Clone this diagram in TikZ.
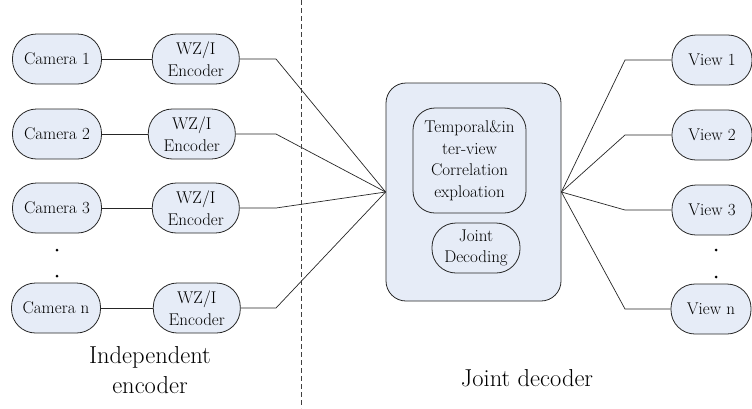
\documentclass[tikz,border=0pt]{standalone}
\usepackage{tikz}
\usetikzlibrary{positioning}
\definecolor{boxfill}{RGB}{230,236,247}

\begin{document}
\begin{tikzpicture}[
    x=1pt, y=-1pt,
    every node/.style={font=\rmfamily\fontsize{17}{21.5}\selectfont},
    pill/.style={rectangle, draw=black!85, line width=0.8pt, fill=boxfill, rounded corners=24pt, minimum height=50pt, inner sep=1pt, align=center},
    cambox/.style={pill, minimum width=89pt},
    encbox/.style={pill, minimum width=87pt},
    viewbox/.style={pill, minimum width=80pt},
    wire/.style={line width=0.7pt, black!85},
    dot/.style={circle, fill=black, inner sep=0pt, minimum size=3pt},
    caption/.style={font=\rmfamily\fontsize{24.5}{30}\selectfont, align=center}
]
\useasboundingbox (0,0) rectangle (752,408);

% cameras and encoders
\node (cam1) [cambox] at (57,59) {Camera 1};
\node (cam2) [cambox] at (57,134) {Camera 2};
\node (cam3) [cambox] at (57,208) {Camera 3};
\node (camn) [cambox] at (56,308) {Camera n};
\node (enc1) [encbox, right=50pt of cam1] {WZ/I\\Encoder};
\node (enc2) [encbox, right=46pt of cam2] {WZ/I\\Encoder};
\node (enc3) [encbox, right=50pt of cam3] {WZ/I\\Encoder};
\node (encn) [encbox, right=52pt of camn] {WZ/I\\Encoder};
\node (cdot1) [dot] at (57,250) {};
\node (cdot2) [dot] at (57,276) {};

% joint decoder
\node (dec) [pill, minimum width=175pt, minimum height=218pt, rounded corners=20pt] at (473.5,192) {};
\node (corr) [pill, minimum width=113pt, minimum height=105pt, rounded corners=22pt] at (469.5,160.5) {Temporal\&in\\ter-view\\Correlation\\exploation};
\node (jd) [pill, minimum width=88pt] at (476,248) {Joint\\Decoding};

% views
\node (view1) [viewbox] at (712,60) {View 1};
\node (view2) [viewbox] at (712,135) {View 2};
\node (view3) [viewbox] at (712,210) {View 3};
\node (viewn) [viewbox] at (711,309) {View n};
\node (vdot1) [dot] at (716,250) {};
\node (vdot2) [dot] at (716,277) {};

\coordinate (eelb) at (276,0);
\coordinate (velb) at (625,0);
\foreach \i in {1,2,3,n} {
    \draw [wire] (cam\i) -- (enc\i);
    \draw [wire] (enc\i.east) -- (eelb |- enc\i.east) -- (dec.west);
    \draw [wire] (dec.east) -- (velb |- view\i.west) -- (view\i.west);
}

% divider
\coordinate (divtop) at (301,0);
\coordinate (divbot) at (301,408);
\draw [black!75, line width=1pt, dash pattern=on 5pt off 3pt] (divtop) -- (divbot);

\node (enclabel) [caption] at (150,370) {Independent\\encoder};
\node (declabel) [caption] at (527,378) {Joint decoder};
\end{tikzpicture}
\end{document}
